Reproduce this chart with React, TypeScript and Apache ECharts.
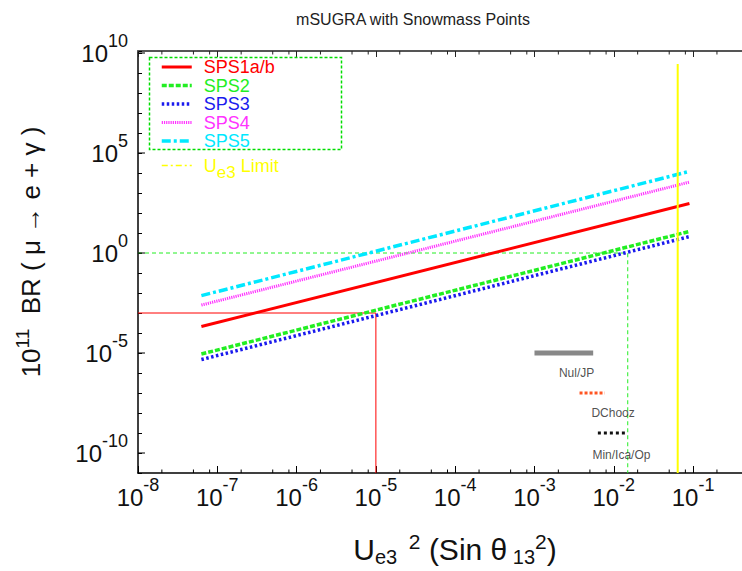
import React, { useEffect, useRef } from 'react';
import * as echarts from 'echarts';

const FONT = '"Liberation Sans", Arial, Helvetica, sans-serif';

// ---- data ----
const seriesNames = ['SPS1a/b', 'SPS2', 'SPS3', 'SPS4', 'SPS5', 'U_e3 Limit'];
const seriesColors = ['#ff0000', '#22ee22', '#1a1aee', '#ff33ff', '#00e8ff', '#ffff00'];
const ue3Range = [6.3e-8, 0.09];
const sps1 = [2.1e-4, 300];
const sps2 = [8.9e-6, 12];
const sps3 = [4.7e-6, 6.6];
const sps4 = [2.5e-3, 3500];
const sps5 = [7.4e-3, 1.2e4];
const ue3LimitX = [0.064, 0.064];
const ue3LimitY = [1e-11, 2.8e9];
const sps1GuideX = [1e-8, 1e-5, 1e-5];
const sps1GuideY = [1e-3, 1e-3, 1e-11];
const sps3GuideX = [1e-8, 0.015, 0.015];
const sps3GuideY = [1, 1, 1e-11];
const nuJpX = [1e-3, 5.5e-3];
const nuJpY = [1e-5, 1e-5];
const dchoozX = [3.7e-3, 7.7e-3];
const dchoozY = [1e-7, 1e-7];
const minIcaOpX = [6.3e-3, 0.014];
const minIcaOpY = [1e-9, 1e-9];
const annotNames = ['Nul/JP', 'DChooz', 'Min/Ica/Op'];
const annotX = [3.4e-3, 9.8e-3, 1.25e-2];
const annotY = [1e-6, 1e-8, 8.3e-11];
const xMin = 1e-8;
const xMax = 0.414;
const yMin = 1e-11;
const yMax = 1.26e10;
const xMinorMultipliers = [2, 5, 8];
const xDecades = [-8, -7, -6, -5, -4, -3, -2, -1];
const yLabelExponents = [-10, -5, 0, 5, 10];

const zip = (xs: number[], ys: number[]) => xs.map((x, i) => [x, ys[i]]);

const supRich = {
  b: { fontSize: 24, lineHeight: 42, verticalAlign: 'middle', fontFamily: FONT, color: '#111' },
  s: { fontSize: 18, lineHeight: 18, verticalAlign: 'top', fontFamily: FONT, color: '#111' },
};

const lineStyles: any[] = [
  { color: seriesColors[0], width: 3 },
  { color: seriesColors[1], width: 3.5, type: [5, 2] },
  { color: seriesColors[2], width: 3.5, type: [2.5, 2.5] },
  { color: seriesColors[3], width: 3, type: [1.2, 1] },
  { color: seriesColors[4], width: 3.5, type: [9, 3, 3, 3] },
  { color: seriesColors[5], width: 2 },
];

const isExactDecade = (v: number) => {
  const e = Math.log10(v);
  return Math.abs(e - Math.round(e)) < 1e-6;
};

export default function App() {
  const ref = useRef<HTMLDivElement>(null);
  useEffect(() => {
    if (!ref.current) return;
    const chart = echarts.init(ref.current, null, { renderer: 'svg' });
    const minorTicks: number[][] = [];
    xDecades.forEach((d) => xMinorMultipliers.forEach((m) => minorTicks.push([m * Math.pow(10, d), 1])));
    const bigTicks = yLabelExponents.map((e) => [xMin, Math.pow(10, e)]);

    const lineBase = { type: 'line', showSymbol: false, symbol: 'none', silent: true, clip: true };
    const curveData = [sps1, sps2, sps3, sps4, sps5];

    const option: any = {
      animation: false,
      backgroundColor: '#ffffff',
      title: {
        text: 'mSUGRA with Snowmass Points',
        left: 408,
        textAlign: 'center',
        top: 6,
        textStyle: { fontFamily: FONT, fontSize: 16, fontWeight: 'normal', color: '#222' },
      },
      legend: {
        left: 160,
        top: 58,
        orient: 'vertical',
        itemWidth: 30,
        itemHeight: 14,
        itemGap: 0.5,
        selectedMode: false,
        padding: 0,
        itemStyle: { opacity: 0 },
        textStyle: { fontFamily: FONT, fontSize: 18, lineHeight: 15, padding: [0, 0, 0, 7] },
        formatter: (name: string) => (name === 'U_e3 Limit' ? '{u|U}{sub|e3}{u| Limit}' : name),
        data: seriesNames.map((n, i) => {
          const item: any = { name: n, textStyle: { color: seriesColors[i] }, lineStyle: { ...lineStyles[i] } };
          if (n === 'U_e3 Limit') {
            item.textStyle.rich = {
              u: { fontSize: 18, lineHeight: 30, color: seriesColors[i], fontFamily: FONT, verticalAlign: 'middle' },
              sub: { fontSize: 17, lineHeight: 14, color: seriesColors[i], fontFamily: FONT, verticalAlign: 'bottom' },
            };
            item.lineStyle = { type: [6, 3, 2, 3], width: 1.5, color: seriesColors[i] };
          }
          return item;
        }),
      },
      graphic: [
        {
          type: 'rect',
          shape: { x: 149.5, y: 57.5, width: 192, height: 92 },
          style: { fill: 'none', stroke: '#00dd00', lineWidth: 1.5, lineDash: [3, 2] },
          silent: true,
          z: 10,
        },
      ],
      grid: { left: 138, top: 51, right: 0, bottom: 98, containLabel: false, outerBoundsMode: 'none' },
      xAxis: [
        {
          type: 'log',
          logBase: 10,
          min: xMin,
          max: xMax,
          interval: 1,
          position: 'bottom',
          axisLine: { show: true, onZero: false, lineStyle: { color: '#000', width: 1.5 } },
          axisTick: { show: true, inside: true, length: 7, lineStyle: { color: '#000', width: 1 } },
          splitLine: { show: false },
          axisLabel: {
            margin: 3,
            formatter: (v: number) => (isExactDecade(v) ? `{b|10}{s|${Math.round(Math.log10(v))}}` : ''),
            rich: supRich,
          },
          name: '{b|U}{sub|e3}{sup|  2}{b| (Sin }{b|θ}{sub| 13}{sup|2}{b|)}',
          nameLocation: 'middle',
          nameGap: 58,
          nameTextStyle: {
            padding: [0, 0, 0, 30],
            rich: {
              b: { fontSize: 30, lineHeight: 36, verticalAlign: 'middle', fontFamily: FONT, color: '#111' },
              sub: { fontSize: 20, lineHeight: 14, verticalAlign: 'bottom', fontFamily: FONT, color: '#111' },
              sup: { fontSize: 21, lineHeight: 14, verticalAlign: 'top', fontFamily: FONT, color: '#111' },
            },
          },
        },
        {
          type: 'log',
          logBase: 10,
          min: xMin,
          max: xMax,
          interval: 1,
          position: 'top',
          axisLine: { show: true, onZero: false, lineStyle: { color: '#555', width: 2 } },
          axisTick: { show: true, inside: true, length: 6, lineStyle: { color: '#222', width: 1 } },
          axisLabel: { show: false },
          splitLine: { show: false },
        },
      ],
      yAxis: [
        {
          type: 'log',
          logBase: 10,
          min: yMin,
          max: yMax,
          interval: 1,
          axisLine: { show: true, onZero: false, lineStyle: { color: '#000', width: 1.5 } },
          axisTick: { show: true, inside: true, length: 4, lineStyle: { color: '#000', width: 1 } },
          splitLine: { show: false },
          axisLabel: {
            margin: 10,
            formatter: (v: number) => {
              const e = Math.log10(v);
              const r = Math.round(e);
              if (Math.abs(e - r) > 1e-6 || r % 5 !== 0) return '';
              return `{b|10}{s|${r}}`;
            },
            rich: supRich,
          },
          name: '{b|10}{p|11}{b|  BR ( μ → e + γ )}',
          nameLocation: 'middle',
          nameGap: 89,
          nameTextStyle: {
            padding: [0, 0, 0, 20],
            rich: {
              b: { fontSize: 26, lineHeight: 36, verticalAlign: 'middle', fontFamily: FONT, color: '#111' },
              p: { fontSize: 19, lineHeight: 16, verticalAlign: 'top', fontFamily: FONT, color: '#111' },
            },
          },
        },
      ],
      series: [
        { ...lineBase, name: 'sps1Guide', data: zip(sps1GuideX, sps1GuideY), lineStyle: { color: '#ff0000', width: 1 }, z: 1 },
        { ...lineBase, name: 'sps3Guide', data: zip(sps3GuideX, sps3GuideY), lineStyle: { color: '#22ee22', width: 1, type: [4, 3] }, z: 1 },
        { ...lineBase, name: 'nuJp', data: zip(nuJpX, nuJpY), lineStyle: { color: '#888888', width: 5 }, z: 2 },
        { ...lineBase, name: 'dchooz', data: zip(dchoozX, dchoozY), lineStyle: { color: '#ff5522', width: 3, type: [3, 2] }, z: 2 },
        { ...lineBase, name: 'minIcaOp', data: zip(minIcaOpX, minIcaOpY), lineStyle: { color: '#111111', width: 3, type: [3, 3] }, z: 2 },
        ...curveData.map((d, i) => ({
          ...lineBase,
          name: seriesNames[i],
          data: zip(ue3Range, d),
          lineStyle: lineStyles[i],
          itemStyle: { color: seriesColors[i] },
          z: 4,
        })),
        { ...lineBase, name: seriesNames[5], data: zip(ue3LimitX, ue3LimitY), lineStyle: lineStyles[5], itemStyle: { color: seriesColors[5] }, z: 5 },
        {
          type: 'scatter',
          name: 'annotations',
          silent: true,
          symbolSize: 0,
          data: annotNames.map((n, i) => ({ name: n, value: [annotX[i], annotY[i]] })),
          label: { show: true, position: 'inside', formatter: '{b}', fontFamily: FONT, fontSize: 12, color: '#222' },
          z: 6,
        },
        {
          type: 'custom',
          name: 'xMinorTicks',
          silent: true,
          data: minorTicks,
          renderItem: (params: any, api: any) => {
            const x = api.coord([api.value(0), 1])[0];
            const cs = params.coordSys;
            return {
              type: 'group',
              children: [
                { type: 'line', shape: { x1: x, y1: cs.y + cs.height, x2: x, y2: cs.y + cs.height - 3.5 }, style: { stroke: '#000', lineWidth: 1 } },
                { type: 'line', shape: { x1: x, y1: cs.y, x2: x, y2: cs.y + 3.5 }, style: { stroke: '#222', lineWidth: 1 } },
              ],
            };
          },
          z: 7,
        },
        {
          type: 'custom',
          name: 'yMajorTicks',
          silent: true,
          data: bigTicks,
          renderItem: (params: any, api: any) => {
            const y = api.coord([xMin, api.value(1)])[1];
            const cs = params.coordSys;
            return { type: 'line', shape: { x1: cs.x, y1: y, x2: cs.x + 7, y2: y }, style: { stroke: '#000', lineWidth: 1 } };
          },
          z: 7,
        },
      ],
    };
    chart.setOption(option);
    return () => chart.dispose();
  }, []);
  return <div ref={ref} style={{ position: 'fixed', left: 0, top: 0, width: 742, height: 571, background: '#fff' }} />;
}
